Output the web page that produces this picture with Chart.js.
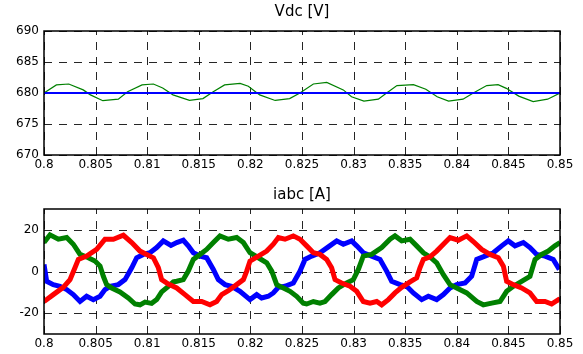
<!DOCTYPE html>
<html><head><meta charset="utf-8">
<script src="https://cdn.jsdelivr.net/npm/chart.js@4/dist/chart.umd.min.js"></script>
<style>
html,body{margin:0;padding:0;background:#fff;}
#wrap{position:relative;width:583px;height:354px;background:#fff;overflow:hidden;}
canvas{position:absolute;left:0;}
#c1{top:0}
#c2{top:177px}
</style></head><body>
<div id="wrap"><canvas id="c1" width="583" height="177" style="width:583px;height:177px"></canvas><canvas id="c2" width="583" height="177" style="width:583px;height:177px"></canvas></div>
<script>
// ---- tick values / labels ----
const xTicks = [0.8,0.805,0.81,0.815,0.82,0.825,0.83,0.835,0.84,0.845,0.85];
const xTickLabels = ['0.8','0.805','0.81','0.815','0.82','0.825','0.83','0.835','0.84','0.845','0.85'];
const vdcTicks = [670,675,680,685,690];
const iTicks = [-20,0,20];

// ---- Vdc [V] ----
const vdcRefT = [0.8, 0.85];
const vdcRef  = [680, 680];
const vdcT = [0.8000,0.8012,0.8024,0.8038,0.8045,0.8057,0.8072,0.8081,0.8095,0.8106,0.8115,0.8125,0.8141,0.8154,0.8164,0.8175,0.8190,0.8198,0.8209,0.8224,0.8238,0.8248,0.8261,0.8274,0.8290,0.8298,0.8310,0.8324,0.8332,0.8342,0.8358,0.8370,0.8381,0.8392,0.8406,0.8416,0.8429,0.8440,0.8448,0.8460,0.8474,0.8488,0.8500];
const vdc  = [680.0,681.3,681.45,680.5,679.7,678.76,679.0,680.2,681.3,681.45,680.8,679.7,678.8,679.1,680.2,681.3,681.55,681.1,679.7,678.8,679.1,680.0,681.45,681.7,680.5,679.4,678.7,679.0,680.0,681.2,681.35,680.6,679.4,678.7,679.0,680.0,681.2,681.35,680.75,679.5,678.6,679.0,680.0];

// ---- iabc [A] ----
const iaT = [0.80000,0.80026,0.80090,0.80155,0.80220,0.80284,0.80349,0.80413,0.80478,0.80543,0.80591,0.80640,0.80720,0.80785,0.80850,0.80898,0.80963,0.81027,0.81092,0.81156,0.81230,0.81286,0.81350,0.81398,0.81447,0.81512,0.81576,0.81641,0.81689,0.81754,0.81818,0.81899,0.81996,0.82061,0.82109,0.82174,0.82222,0.82271,0.82335,0.82416,0.82481,0.82529,0.82594,0.82674,0.82755,0.82836,0.82900,0.82981,0.83030,0.83094,0.83175,0.83256,0.83320,0.83369,0.83450,0.83514,0.83579,0.83660,0.83724,0.83805,0.83870,0.83934,0.83999,0.84080,0.84144,0.84193,0.84273,0.84354,0.84435,0.84499,0.84564,0.84645,0.84709,0.84774,0.84855,0.84935,0.84993];
const ia  = [3.4,-4.7,-6.3,-7.1,-8.7,-11.1,-14.4,-11.9,-13.5,-11.9,-8.7,-7.1,-6.3,-3.9,1.8,6.6,8.2,9.0,11.5,14.7,12.5,13.9,15.0,12.3,9.0,7.4,6.6,1.0,-3.9,-6.3,-7.1,-9.5,-13.5,-11.1,-12.7,-11.9,-10.3,-7.6,-7.1,-5.5,0.2,5.8,7.4,9.0,11.8,14.7,13.1,14.7,12.3,9.0,7.4,5.8,0.2,-4.7,-6.3,-7.1,-10.3,-13.5,-11.9,-13.5,-11.1,-7.9,-6.3,-5.5,-2.3,5.8,7.4,9.0,12.3,14.7,12.3,13.9,11.5,8.2,7.4,5.8,1.0];

const ibT = [0.80000,0.80058,0.80139,0.80220,0.80284,0.80349,0.80430,0.80494,0.80543,0.80575,0.80607,0.80656,0.80736,0.80817,0.80882,0.80930,0.80979,0.81043,0.81092,0.81140,0.81205,0.81253,0.81286,0.81350,0.81398,0.81447,0.81512,0.81576,0.81641,0.81705,0.81786,0.81867,0.81932,0.81996,0.82077,0.82158,0.82207,0.82255,0.82320,0.82384,0.82448,0.82513,0.82545,0.82610,0.82674,0.82723,0.82787,0.82852,0.82933,0.82997,0.83046,0.83094,0.83175,0.83272,0.83353,0.83401,0.83466,0.83547,0.83611,0.83676,0.83740,0.83805,0.83870,0.83934,0.83999,0.84096,0.84193,0.84257,0.84338,0.84419,0.84483,0.84548,0.84628,0.84709,0.84758,0.84822,0.84887,0.84951,0.85000];
const ib  = [13.9,17.6,15.5,16.3,13.1,8.2,6.6,5.0,2.6,-2.3,-6.3,-7.9,-9.8,-12.7,-15.6,-16.0,-14.7,-15.3,-13.5,-9.8,-7.1,-5.0,-4.7,-3.9,0.2,5.8,8.2,10.6,13.9,17.1,15.5,16.3,13.9,9.0,6.6,4.2,0.2,-6.3,-7.9,-9.5,-11.9,-15.2,-15.6,-14.4,-15.2,-14.4,-11.1,-7.9,-5.5,-3.9,1.0,7.4,8.2,11.5,15.5,17.1,14.7,15.5,12.3,9.0,7.0,4.2,-1.5,-6.3,-7.9,-10.3,-14.4,-16.0,-15.2,-14.4,-9.5,-7.1,-4.7,-2.3,5.8,8.2,9.8,12.3,13.9];

const icT = [0.80000,0.80090,0.80187,0.80252,0.80300,0.80333,0.80413,0.80510,0.80591,0.80672,0.80769,0.80850,0.80930,0.80995,0.81060,0.81108,0.81140,0.81205,0.81286,0.81366,0.81447,0.81528,0.81608,0.81673,0.81722,0.81786,0.81867,0.81932,0.81964,0.81996,0.82077,0.82158,0.82222,0.82271,0.82335,0.82416,0.82481,0.82545,0.82610,0.82674,0.82739,0.82787,0.82820,0.82884,0.82965,0.83030,0.83094,0.83159,0.83224,0.83272,0.83337,0.83401,0.83466,0.83547,0.83611,0.83643,0.83676,0.83740,0.83805,0.83870,0.83934,0.84015,0.84096,0.84160,0.84241,0.84322,0.84402,0.84451,0.84483,0.84548,0.84628,0.84709,0.84774,0.84855,0.84919,0.84984,0.85000];
const ic  = [-14.4,-11.1,-7.6,-3.9,1.8,5.8,7.4,10.6,15.5,15.5,17.4,13.9,9.8,8.2,6.6,1.8,-3.9,-6.0,-7.9,-11.1,-14.4,-14.4,-16.0,-14.4,-11.1,-9.2,-6.3,-3.9,0.2,5.0,7.4,9.8,13.1,16.3,15.5,17.1,15.5,12.3,9.0,8.2,5.8,1.8,-3.9,-5.5,-7.1,-9.5,-14.4,-15.2,-14.4,-16.0,-13.5,-10.3,-7.6,-5.0,-3.1,1.8,5.8,7.0,9.8,13.1,16.3,15.0,17.1,14.4,10.6,8.2,6.6,2.6,-4.7,-6.3,-7.9,-10.3,-14.4,-14.4,-15.6,-13.5,-14.0];

function pts(t, v){ return t.map((x,i)=>({x:x, y:v[i]})); }

Chart.defaults.font.family = "'DejaVu Sans', sans-serif";
Chart.defaults.font.size = 12;
Chart.defaults.color = '#000';

// dashed grid at tick positions, under the data
const dashGrid = {
  id:'dashGrid',
  beforeDatasetsDraw(chart){
    const {ctx, chartArea:a, scales} = chart;
    ctx.save();
    ctx.strokeStyle = 'rgba(0,0,0,0.85)';
    ctx.lineWidth = 1;
    ctx.setLineDash([8,7]);
    scales.x.ticks.forEach(t=>{
      const px = Math.round(scales.x.getPixelForValue(t.value)) + 0.5;
      ctx.beginPath(); ctx.moveTo(px, a.bottom); ctx.lineTo(px, a.top); ctx.stroke();
    });
    scales.y.ticks.forEach(t=>{
      const py = Math.round(scales.y.getPixelForValue(t.value)) + 0.5;
      ctx.beginPath(); ctx.moveTo(a.left, py); ctx.lineTo(a.right, py); ctx.stroke();
    });
    ctx.restore();
  }
};

const frame = {
  id:'frame',
  afterDraw(chart){
    const {ctx, chartArea:a} = chart;
    ctx.save();
    ctx.strokeStyle = '#000';
    ctx.lineWidth = 1.5;
    ctx.setLineDash([]);
    ctx.strokeRect(a.left, a.top, a.right - a.left, a.bottom - a.top);
    ctx.restore();
  }
};

function makeChart(id, title, titlePad, datasets, yMin, yMax, yTicks, xAxisH){
  return new Chart(document.getElementById(id), {
    type:'line',
    data:{datasets:datasets},
    plugins:[dashGrid, frame],
    options:{
      responsive:false,
      animation:false,
      devicePixelRatio:1,
      layout:{padding:{left:0,right:23,top:0,bottom:0}},
      plugins:{
        legend:{display:false},
        tooltip:{enabled:false},
        title:{display:true, text:title, fullSize:false, color:'#000',
               font:{family:"'DejaVu Sans', sans-serif", size:15, weight:'normal', lineHeight:1},
               padding:titlePad}
      },
      elements:{point:{radius:0}, line:{tension:0}},
      scales:{
        x:{
          type:'linear', min:0.8, max:0.85,
          afterBuildTicks(s){ s.ticks = xTicks.map(v=>({value:v})); },
          afterFit(s){ s.height = xAxisH; },
          ticks:{autoSkip:false, maxRotation:0, padding:3,
                 callback(v, i){ return xTickLabels[i]; }},
          grid:{display:false, drawTicks:false},
          border:{display:false}
        },
        y:{
          min:yMin, max:yMax,
          afterBuildTicks(s){ s.ticks = yTicks.map(v=>({value:v})); },
          afterFit(s){ s.width = 44; },
          ticks:{autoSkip:false, padding:5, callback(v){ return String(v); }},
          grid:{display:false, drawTicks:false},
          border:{display:false}
        }
      }
    }
  });
}

makeChart('c1', 'Vdc [V]', {top:4.5, bottom:11.5}, [
  {data:pts(vdcRefT, vdcRef), borderColor:'#0000ff', borderWidth:2, fill:false},
  {data:pts(vdcT, vdc), borderColor:'#008000', borderWidth:1.2, fill:false}
], 670, 690, vdcTicks, 22);

makeChart('c2', 'iabc [A]', {top:11, bottom:6}, [
  {data:pts(icT, ic), borderColor:'#ff0000', borderWidth:5, fill:false},
  {data:pts(ibT, ib), borderColor:'#008000', borderWidth:5, fill:false},
  {data:pts(iaT, ia), borderColor:'#0000ff', borderWidth:5, fill:false}
], -30, 30, iTicks, 20);
</script>
</body></html>
